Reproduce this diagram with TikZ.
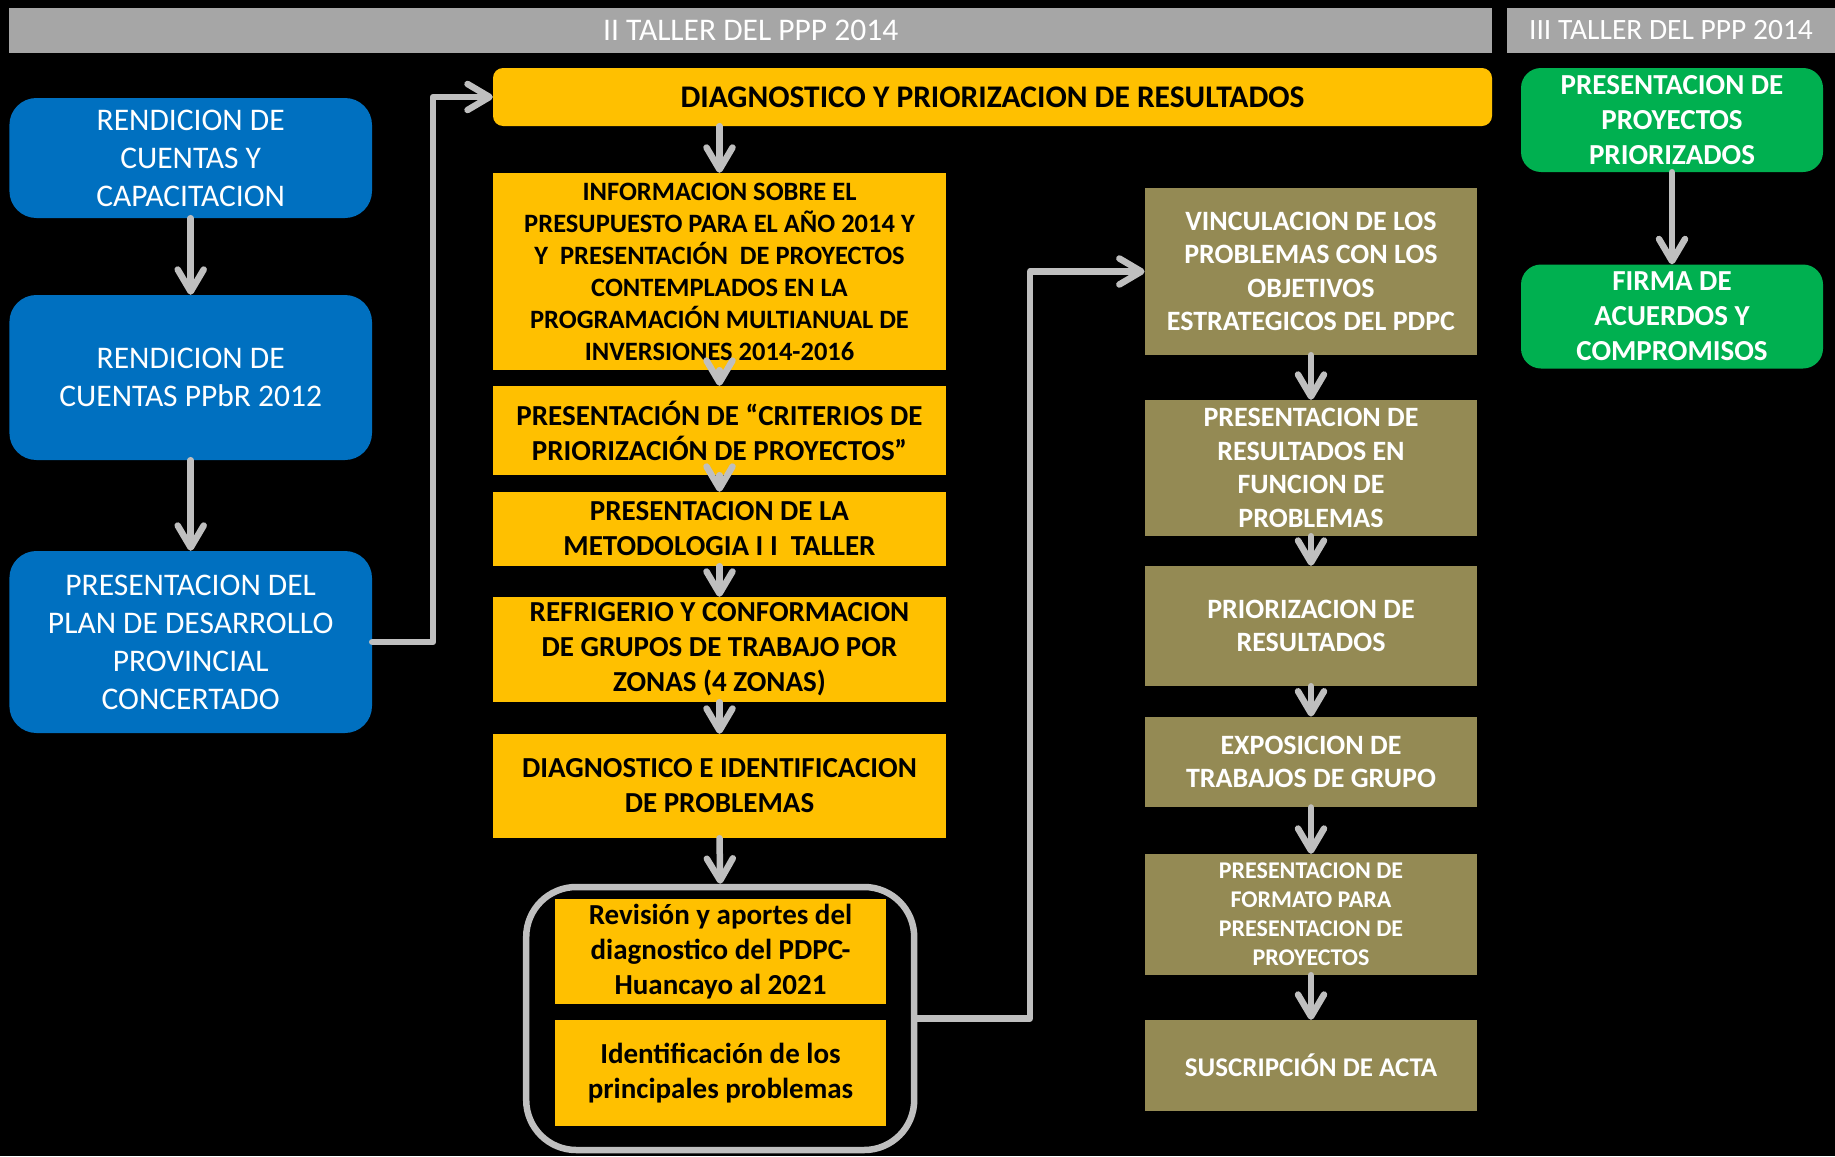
\documentclass[tikz,border=0pt]{standalone}
\usepackage{fontspec}
\setmainfont{Carlito}
\usetikzlibrary{arrows.meta}
\definecolor{hdrgray}{HTML}{A6A6A6}
\definecolor{arrgray}{HTML}{BFBFBF}
\definecolor{pblue}{HTML}{0070C0}
\definecolor{pyellow}{HTML}{FFC000}
\definecolor{polive}{HTML}{948A54}
\definecolor{pgreen}{HTML}{00B050}
\begin{document}
\begin{tikzpicture}[x=1pt, y=-1pt, line join=round, line cap=round,
	hdr/.style={fill=hdrgray, text=white, inner sep=0pt, font=\fontsize{31.5}{38}\selectfont},
	bluebox/.style={fill=pblue, text=white, rounded corners=27pt, align=center, inner sep=0pt, minimum width=362.6pt, font=\fontsize{31.5}{38}\selectfont},
	yelbox/.style={fill=pyellow, text=black, align=center, inner sep=0pt, minimum width=453pt, font=\fontsize{29}{35}\selectfont\bfseries},
	olbox/.style={fill=polive, text=white, align=center, inner sep=0pt, minimum width=332.4pt, font=\fontsize{28}{33.5}\selectfont\bfseries},
	grbox/.style={fill=pgreen, text=white, rounded corners=20pt, align=center, inner sep=0pt, minimum width=302pt, minimum height=104pt, font=\fontsize{29}{35}\selectfont\bfseries},
	arr/.style={draw=arrgray, line width=6.5pt, -{Straight Barb[length=22pt,width=26pt,round]}}]
	\def\xa{190.7} \def\xb{719.5} \def\xc{1311} \def\xd{1672}
	\fill[black] (0,0) rectangle (1835,1156);
	\useasboundingbox (0,0) rectangle (1835,1156);
	% cabeceras
	\node[hdr, minimum width=1482.6pt, minimum height=44.5pt] (h1) at (750.7,30.5) {II TALLER DEL PPP 2014};
	\node[hdr, minimum width=328pt, minimum height=44.5pt, font=\fontsize{29.5}{36}\selectfont] (h2) at (1671,30.5) {III TALLER DEL PPP 2014};
	% columna azul
	\node[bluebox, minimum height=120pt] (b1) at (\xa,158) {RENDICION DE\\CUENTAS Y\\CAPACITACION};
	\node[bluebox, minimum height=165pt] (b2) at (\xa,377.5) {RENDICION DE\\CUENTAS PPbR 2012};
	\node[bluebox, minimum height=182pt] (b3) at (\xa,642) {PRESENTACION DEL\\PLAN DE DESARROLLO\\PROVINCIAL\\CONCERTADO};
	% columna amarilla
	\node[yelbox, rounded corners=10pt, minimum width=999pt, minimum height=58pt, font=\fontsize{31.5}{38}\selectfont\bfseries] (y0) at (992.5,97) {DIAGNOSTICO Y PRIORIZACION DE RESULTADOS};
	\node[yelbox, minimum height=197pt, font=\fontsize{26.5}{32}\selectfont\bfseries] (y1) at (\xb,271.5) {INFORMACION SOBRE EL\\PRESUPUESTO PARA EL AÑO 2014 Y\\Y\ \ PRESENTACIÓN\ \ DE PROYECTOS\\CONTEMPLADOS EN LA\\PROGRAMACIÓN MULTIANUAL DE\\INVERSIONES 2014-2016};
	\node[yelbox, minimum height=89pt] (y2) at (\xb,430.5) {PRESENTACIÓN DE “CRITERIOS DE\\PRIORIZACIÓN DE PROYECTOS”};
	\node[yelbox, minimum height=74pt] (y3) at (\xb,529) {PRESENTACION DE LA\\METODOLOGIA I I\ \ TALLER};
	\node[yelbox, minimum height=105pt] (y4) at (\xb,649.5) {REFRIGERIO Y CONFORMACION\\DE GRUPOS DE TRABAJO POR\\ZONAS (4 ZONAS)};
	\node[yelbox, minimum height=104pt] (y5) at (\xb,786) {DIAGNOSTICO E IDENTIFICACION\\DE PROBLEMAS};
	\node[draw=arrgray, line width=6.5pt, rounded corners=50pt, minimum width=388pt, minimum height=263pt] (grp) at (720.2,1018.5) {};
	\node[yelbox, minimum width=331pt, minimum height=105pt] (g1) at (720.5,951.5) {Revisión y aportes del\\diagnostico del PDPC-\\Huancayo al 2021};
	\node[yelbox, minimum width=331pt, minimum height=106pt] (g2) at (720.5,1073) {Identificación de los\\principales problemas};
	% columna olivo
	\node[olbox, minimum height=167pt] (o1) at (\xc,271.5) {VINCULACION DE LOS\\PROBLEMAS CON LOS\\OBJETIVOS\\ESTRATEGICOS DEL PDPC};
	\node[olbox, minimum height=136pt] (o2) at (\xc,468) {PRESENTACION DE\\RESULTADOS EN\\FUNCION DE\\PROBLEMAS};
	\node[olbox, minimum height=120pt] (o3) at (\xc,626) {PRIORIZACION DE\\RESULTADOS};
	\node[olbox, minimum height=90.5pt] (o4) at (\xc,762) {EXPOSICION DE\\TRABAJOS DE GRUPO};
	\node[olbox, minimum height=121pt, font=\fontsize{24}{29}\selectfont\bfseries] (o5) at (\xc,914.5) {PRESENTACION DE\\FORMATO PARA\\PRESENTACION DE\\PROYECTOS};
	\node[olbox, minimum height=91pt, font=\fontsize{27}{32}\selectfont\bfseries] (o6) at (\xc,1065.5) {SUSCRIPCIÓN DE ACTA};
	% columna verde
	\node[grbox] (gr1) at (\xd,120) {PRESENTACION DE\\PROYECTOS\\PRIORIZADOS};
	\node[grbox] (gr2) at (\xd,316.5) {FIRMA DE\\ACUERDOS Y\\COMPROMISOS};
	% flechas
	\coordinate (jl) at (433,0);
	\coordinate (jr) at (1030,0);
	\foreach \a/\b in {b1/b2,b2/b3,y1/y2,y2/y3,y3/y4,y4/y5,y5/grp,o1/o2,o2/o3,o3/o4,o4/o5,o5/o6,gr1/gr2}
		\draw[arr] (\a.south) -- (\b.north);
	\draw[arr] (y1.north |- y0.south) -- (y1.north);
	\draw[arr] (b3.east) -- (b3.east -| jl) -- (y0.west -| jl) -- (y0.west);
	\draw[arr] (grp.east) -- (grp.east -| jr) -- (o1.west -| jr) -- (o1.west);
\end{tikzpicture}
\end{document}
